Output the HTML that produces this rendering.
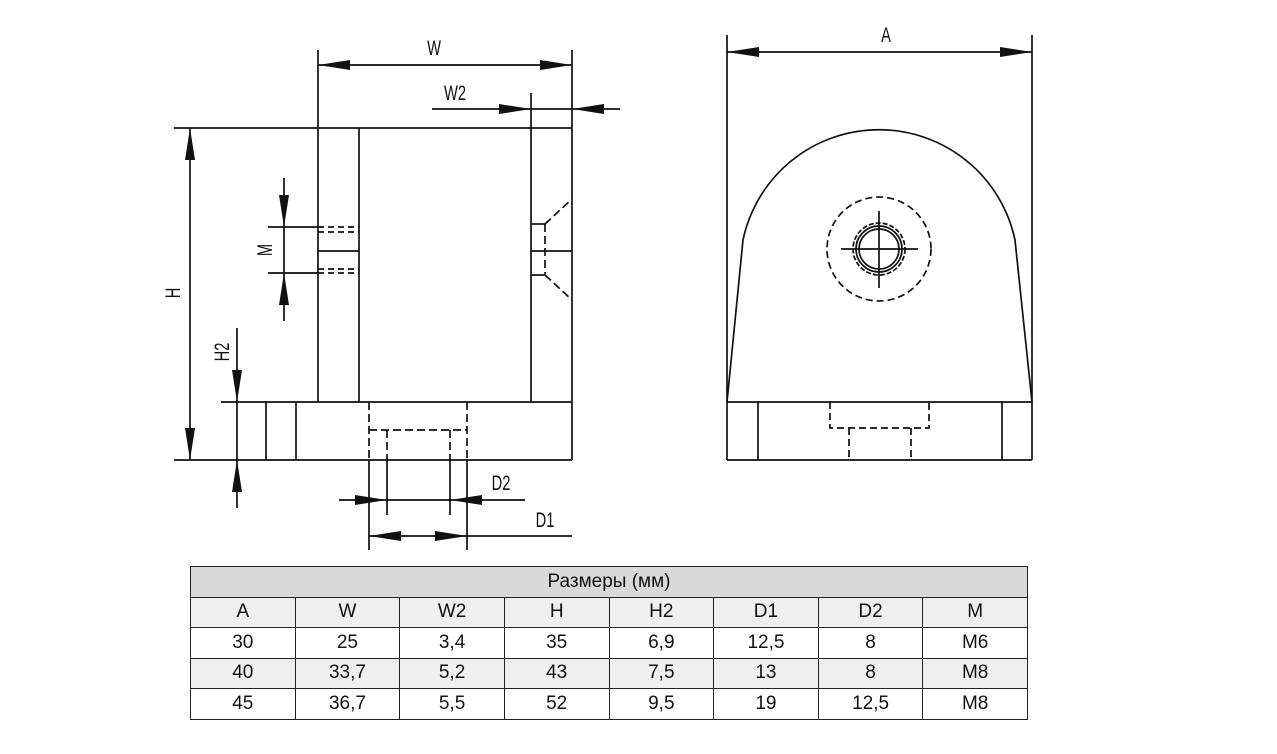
<!DOCTYPE html>
<html><head><meta charset="utf-8"><style>
body{margin:0;background:#fff;width:1277px;height:754px;overflow:hidden;position:relative;font-family:"Liberation Sans",sans-serif}
svg{position:absolute;left:0;top:0}
table{position:absolute;left:190px;top:566px;width:838px;border-collapse:collapse;font-family:"Liberation Sans","DejaVu Sans",sans-serif;font-size:19px;color:#111}
td{border:1.5px solid #222;text-align:center;padding:0;height:29.5px;width:12.5%}
.h td{background:#d9d9d9}
.g td{background:#efefef}
</style></head><body>
<svg width="1277" height="754" viewBox="0 0 1277 754">
<g stroke="#111" stroke-width="1.7" fill="none">
<line x1="318" y1="50" x2="318" y2="402"/><line x1="572" y1="50" x2="572" y2="460"/>
<line x1="318" y1="65" x2="572" y2="65"/>
<line x1="531" y1="93" x2="531" y2="402"/>
<line x1="432" y1="109" x2="620" y2="109"/>
<line x1="174" y1="128" x2="572" y2="128"/>
<line x1="359" y1="128" x2="359" y2="402"/>
<line x1="221" y1="402" x2="572" y2="402"/>
<line x1="174" y1="460" x2="572" y2="460"/>
<line x1="266" y1="402" x2="266" y2="460"/><line x1="296" y1="402" x2="296" y2="460"/>
<line x1="190" y1="128" x2="190" y2="460"/>
<line x1="237" y1="328" x2="237" y2="508"/>
<line x1="284" y1="178" x2="284" y2="321"/>
<line x1="268" y1="227" x2="318" y2="227"/><line x1="268" y1="273" x2="318" y2="273"/>
<line x1="318" y1="251" x2="359" y2="251"/>
<g stroke-dasharray="6,4"><line x1="318" y1="227" x2="359" y2="227"/><line x1="318" y1="232" x2="359" y2="232"/><line x1="318" y1="269" x2="359" y2="269"/><line x1="318" y1="273" x2="359" y2="273"/></g>
<line x1="531" y1="224" x2="545" y2="224"/><line x1="531" y1="251" x2="572" y2="251"/><line x1="531" y1="275" x2="545" y2="275"/>
<g stroke-dasharray="8,4"><line x1="545" y1="224" x2="545" y2="275"/><line x1="545" y1="224" x2="572" y2="199"/><line x1="545" y1="275" x2="572" y2="300"/></g>
<g stroke-dasharray="8,4"><line x1="369" y1="402" x2="369" y2="460"/><line x1="467" y1="402" x2="467" y2="460"/><line x1="369" y1="430" x2="467" y2="430"/><line x1="387" y1="430" x2="387" y2="460"/><line x1="450" y1="430" x2="450" y2="460"/></g>
<line x1="369" y1="460" x2="369" y2="550"/><line x1="467" y1="460" x2="467" y2="550"/>
<line x1="387" y1="460" x2="387" y2="515"/><line x1="450" y1="460" x2="450" y2="515"/>
<line x1="339" y1="500" x2="525" y2="500"/>
<line x1="369" y1="536" x2="572" y2="536"/>
<line x1="727" y1="35" x2="727" y2="460"/><line x1="1032" y1="35" x2="1032" y2="460"/>
<line x1="727" y1="52" x2="1032" y2="52"/>
<path d="M727 402 L743 240 A139 139 0 0 1 1015 240 L1032 402"/>
<line x1="727" y1="402" x2="1032" y2="402"/><line x1="727" y1="460" x2="1032" y2="460"/>
<line x1="758" y1="402" x2="758" y2="460"/><line x1="1002" y1="402" x2="1002" y2="460"/>
<g stroke-dasharray="7,4"><path d="M830 402 V428 H929 V402"/><line x1="849" y1="428" x2="849" y2="460"/><line x1="911" y1="428" x2="911" y2="460"/>
<circle cx="879" cy="249" r="52"/><circle cx="879" cy="249" r="26" stroke-dasharray="5,2"/></g>
<circle cx="879" cy="249" r="23"/><circle cx="879" cy="249" r="20"/>
<line x1="841" y1="249" x2="918" y2="249"/><line x1="879" y1="211" x2="879" y2="288"/>
</g>
<g fill="#111">
<polygon points="318,65 350,60 350,70"/><polygon points="572,65 540,60 540,70"/>
<polygon points="531,109 499,104 499,114"/><polygon points="572,109 604,104 604,114"/>
<polygon points="190,128 185,160 195,160"/><polygon points="190,460 185,428 195,428"/>
<polygon points="284,227 279,195 289,195"/><polygon points="284,273 279,305 289,305"/>
<polygon points="237,402 232,370 242,370"/><polygon points="237,460 232,492 242,492"/>
<polygon points="387,500 355,495 355,505"/><polygon points="450,500 482,495 482,505"/>
<polygon points="369,536 401,531 401,541"/><polygon points="467,536 435,531 435,541"/>
<polygon points="727,52 759,47 759,57"/><polygon points="1032,52 1000,47 1000,57"/>
</g>
<g font-family="Liberation Sans,sans-serif" font-size="21" fill="#111" text-anchor="middle">
<text transform="translate(434,55) scale(0.7,1)">W</text>
<text transform="translate(455,100) scale(0.7,1)">W2</text>
<text transform="translate(886,42) scale(0.7,1)">A</text>
<text transform="translate(501,490) scale(0.7,1)">D2</text>
<text transform="translate(545,527) scale(0.7,1)">D1</text>
<text transform="translate(180,293) rotate(-90) scale(0.7,1)">H</text>
<text transform="translate(229,352) rotate(-90) scale(0.7,1)">H2</text>
<text transform="translate(272,250) rotate(-90) scale(0.7,1)">M</text>
</g>
</svg>
<table>
<tr class="h"><td colspan="8">Размеры (мм)</td></tr>
<tr class="g"><td>A</td><td>W</td><td>W2</td><td>H</td><td>H2</td><td>D1</td><td>D2</td><td>M</td></tr>
<tr><td>30</td><td>25</td><td>3,4</td><td>35</td><td>6,9</td><td>12,5</td><td>8</td><td>M6</td></tr>
<tr class="g"><td>40</td><td>33,7</td><td>5,2</td><td>43</td><td>7,5</td><td>13</td><td>8</td><td>M8</td></tr>
<tr><td>45</td><td>36,7</td><td>5,5</td><td>52</td><td>9,5</td><td>19</td><td>12,5</td><td>M8</td></tr>
</table>
</body></html>
